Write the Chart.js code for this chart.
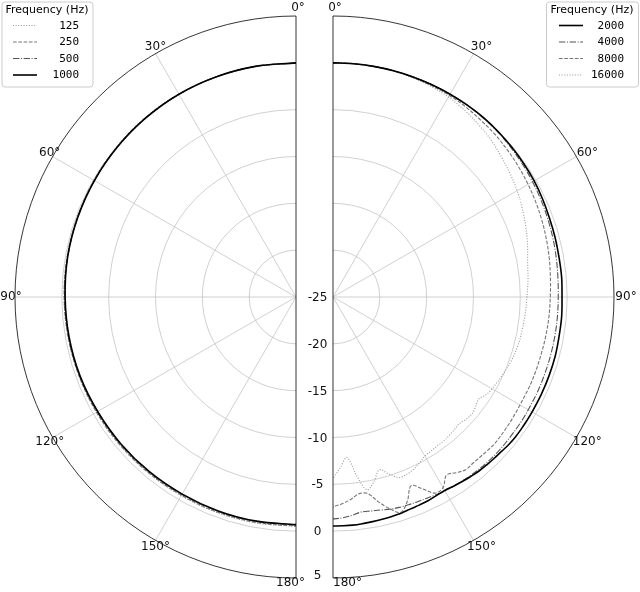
<!DOCTYPE html>
<html>
<head>
<meta charset="utf-8">
<script src="https://cdn.jsdelivr.net/npm/chart.js@4.4.0/dist/chart.umd.min.js"></script>
<style>
  html, body { margin: 0; padding: 0; background: #fff; }
</style>
</head>
<body>
<canvas id="polar" width="640" height="592"></canvas>
<script>
// angles in degrees, 0 = front, 180 = rear
var anglesLow = [0, 10, 20, 30, 40, 50, 60, 70, 80, 90, 100, 110, 120, 130, 140, 150, 160, 170, 180];
var anglesHigh = [0, 5, 10, 15, 20, 25, 30, 35, 40, 45, 50, 55, 60, 65, 70, 75, 80, 85, 90, 95, 100, 105, 110, 115, 120,
    122.5, 125, 127.5, 130, 132.5, 135, 137.5, 140, 142.5, 145, 147.5, 150, 152.5, 155, 157.5, 160,
    162.5, 165, 167.5, 170, 172.5, 175, 177.5, 180];

// levels in dB
var level125 = [0, 0, 0, 0, 0, -0.05, -0.1, -0.15, -0.2, -0.25, -0.3, -0.35, -0.4, -0.45, -0.5, -0.5, -0.5, -0.5, -0.5];
var level250 = [0, 0, 0, 0, 0, -0.05, -0.1, -0.15, -0.2, -0.25, -0.3, -0.35, -0.4, -0.45, -0.5, -0.55, -0.55, -0.55, -0.55];
var level500 = [0, 0, 0, 0, -0.05, -0.1, -0.15, -0.2, -0.25, -0.3, -0.35, -0.4, -0.5, -0.55, -0.6, -0.65, -0.65, -0.65, -0.65];
var level1000 = [0, 0, 0, 0, -0.05, -0.1, -0.15, -0.2, -0.25, -0.35, -0.4, -0.45, -0.55, -0.6, -0.65, -0.7, -0.7, -0.7, -0.7];

var level2000 = [0, 0, 0, 0, 0, 0, 0, 0, 0, -0.05, -0.1, -0.15, -0.2, -0.3, -0.4, -0.45, -0.5, -0.5, -0.55, -0.5, -0.5, -0.45, -0.45, -0.45, -0.45,
    -0.45, -0.45, -0.45, -0.5, -0.6, -0.65, -0.7, -0.75, -0.85, -0.95, -1.05, -1.15, -1.1, -1.0, -0.95, -0.9,
    -0.8, -0.75, -0.7, -0.65, -0.6, -0.55, -0.55, -0.55];
var level4000 = [0, 0, 0, 0, 0, 0, 0, 0, -0.05, -0.1, -0.2, -0.3, -0.4, -0.5, -0.6, -0.7, -0.8, -0.9, -0.95, -0.95, -0.95, -0.95, -0.95, -0.93, -0.93,
    -0.9, -0.9, -0.9, -0.88, -0.86, -0.85, -0.88, -0.9, -0.95, -1.0, -1.05, -1.1, -1.2, -1.3, -1.35, -1.4,
    -1.45, -1.55, -1.7, -1.8, -1.85, -1.6, -1.4, -1.3];
var level8000 = [0, 0, 0, 0, -0.05, -0.1, -0.15, -0.25, -0.4, -0.5, -0.65, -0.8, -0.95, -1.1, -1.25, -1.4, -1.55, -1.7, -1.8, -1.85, -1.9, -1.95, -1.95, -1.95, -1.95,
    -1.9, -1.85, -1.8, -1.75, -1.7, -1.75, -1.8, -1.8, -1.75, -2.1, -2.45, -1.5, -1.4, -2.4, -3.2, -1.8,
    -0.9, -1.6, -2.6, -3.7, -3.8, -3.3, -2.9, -2.6];
var level16000 = [0, 0, 0, -0.05, -0.1, -0.2, -0.35, -0.6, -0.9, -1.2, -1.6, -1.95, -2.3, -2.7, -3.1, -3.5, -3.9, -4.1, -4.3, -4.4, -4.5, -4.6, -4.8, -5.1, -5.4,
    -5.6, -6.0, -5.8, -5.6, -5.7, -5.9, -5.8, -5.7, -5.6, -5.6, -5.5, -5.4, -5.0, -4.7, -4.5, -4.5,
    -5.2, -5.9, -4.8, -4.1, -5.8, -7.8, -6.8, -5.6];

var radialTicks = [-25, -20, -15, -10, -5, 0, 5];
var angleTicks = [0, 30, 60, 90, 120, 150, 180];
var legendTitle = 'Frequency (Hz)';

var rMin = -25, rMax = 5;

// layout (pixels)
var W = 640, H = 592;
var PX = 281 / (rMax - rMin);   // pixels per dB
var CX_LEFT = 296, CX_RIGHT = 333, CY = 297;
var gapUnits = (CX_RIGHT - CX_LEFT) / PX;

var styles = {
    solid:   { color: '#000000', width: 1.6, dash: [], order: 0 },
    dashdot: { color: '#555555', width: 1.1, dash: [6.4, 1.6, 1, 1.6], order: 1 },
    dashed:  { color: '#777777', width: 1.1, dash: [3.7, 1.6], order: 2 },
    dotted:  { color: '#999999', width: 1.1, dash: [1, 1.65], order: 3 }
};

function polarPoint(side, deg, level) {
    var r = level - rMin;
    var a = deg * Math.PI / 180;
    return { x: (side < 0 ? 0 : gapUnits) + side * r * Math.sin(a), y: r * Math.cos(a) };
}

function makeSet(label, side, angles, levels, style) {
    var s = styles[style];
    return {
        label: label,
        side: side,
        data: angles.map(function (a, i) { return polarPoint(side, a, levels[i]); }),
        showLine: true,
        borderColor: s.color,
        borderWidth: s.width,
        borderDash: s.dash,
        pointRadius: 0,
        fill: false,
        tension: 0.35,
        order: s.order
    };
}

var datasets = [
    makeSet('125', -1, anglesLow, level125, 'dotted'),
    makeSet('250', -1, anglesLow, level250, 'dashed'),
    makeSet('500', -1, anglesLow, level500, 'dashdot'),
    makeSet('1000', -1, anglesLow, level1000, 'solid'),
    makeSet('2000', 1, anglesHigh, level2000, 'solid'),
    makeSet('4000', 1, anglesHigh, level4000, 'dashdot'),
    makeSet('8000', 1, anglesHigh, level8000, 'dashed'),
    makeSet('16000', 1, anglesHigh, level16000, 'dotted')
];

var tickFont = '12px "DejaVu Sans", sans-serif';
var legendFont = '11px "DejaVu Sans", sans-serif';
var legendMono = '11px "DejaVu Sans Mono", monospace';

function pix(chart, p) {
    return { x: chart.scales.x.getPixelForValue(p.x), y: chart.scales.y.getPixelForValue(p.y) };
}

function drawLegend(chart, side, box) {
    var ctx = chart.ctx;
    var sets = chart.data.datasets.filter(function (d) { return d.side === side; });
    ctx.save();
    ctx.fillStyle = 'rgba(255,255,255,0.8)';
    ctx.strokeStyle = '#cccccc';
    ctx.lineWidth = 1;
    ctx.beginPath();
    ctx.roundRect(box.x + 0.5, box.y + 0.5, box.w, box.h, 3);
    ctx.fill();
    ctx.stroke();
    ctx.fillStyle = '#000';
    ctx.font = legendFont;
    ctx.textAlign = 'center';
    ctx.textBaseline = 'middle';
    ctx.fillText(legendTitle, box.x + box.w / 2, box.y + 9);
    ctx.font = legendMono;
    ctx.textAlign = 'right';
    sets.forEach(function (d, i) {
        var y = box.y + 24 + i * 16.5;
        ctx.strokeStyle = d.borderColor;
        ctx.lineWidth = d.borderWidth;
        ctx.setLineDash(d.borderDash);
        ctx.beginPath();
        ctx.moveTo(box.sx, y);
        ctx.lineTo(box.sx + 24, y);
        ctx.stroke();
        ctx.setLineDash([]);
        ctx.fillText(d.label, box.nx, y + 0.5);
    });
    ctx.restore();
}

var polarFrame = {
    id: 'polarFrame',
    beforeDatasetsDraw: function (chart) {
        var ctx = chart.ctx;
        var unit = chart.scales.x.getPixelForValue(1) - chart.scales.x.getPixelForValue(0);
        [-1, 1].forEach(function (side) {
            var c = pix(chart, polarPoint(side, 0, rMin));
            ctx.save();
            ctx.strokeStyle = '#c4c4c4';
            ctx.lineWidth = 0.8;
            radialTicks.forEach(function (t) {
                if (t === rMin || t === rMax) return;
                ctx.beginPath();
                ctx.arc(c.x, c.y, (t - rMin) * unit, -Math.PI / 2, Math.PI / 2, side < 0);
                ctx.stroke();
            });
            angleTicks.forEach(function (a) {
                if (a === 0 || a === 180) return;
                var p = pix(chart, polarPoint(side, a, rMax));
                ctx.beginPath();
                ctx.moveTo(c.x, c.y);
                ctx.lineTo(p.x, p.y);
                ctx.stroke();
            });
            ctx.restore();
        });
    },
    afterDatasetsDraw: function (chart) {
        var ctx = chart.ctx;
        var unit = chart.scales.x.getPixelForValue(1) - chart.scales.x.getPixelForValue(0);
        [-1, 1].forEach(function (side) {
            var c = pix(chart, polarPoint(side, 0, rMin));
            var R = (rMax - rMin) * unit;
            ctx.save();
            ctx.strokeStyle = '#000';
            ctx.lineWidth = 0.8;
            ctx.beginPath();
            ctx.arc(c.x, c.y, R, -Math.PI / 2, Math.PI / 2, side < 0);
            ctx.stroke();
            ctx.beginPath();
            ctx.moveTo(c.x, c.y - R);
            ctx.lineTo(c.x, c.y + R);
            ctx.stroke();

            // angle labels
            ctx.fillStyle = '#111';
            ctx.font = tickFont;
            ctx.textBaseline = 'middle';
            angleTicks.forEach(function (a) {
                var txt = a + '\u00b0';
                var rad = a * Math.PI / 180;
                var rr = R + 8;
                var x = c.x + side * rr * Math.sin(rad) + 4;
                var y = c.y - rr * Math.cos(rad);
                ctx.textAlign = 'center';
                if (a === 0) { x = c.x + 2; }
                if (a === 180) {
                    y = c.y + R + 5;
                    if (side < 0) { ctx.textAlign = 'right'; x = c.x + 9; }
                    else { ctx.textAlign = 'left'; x = c.x; }
                }
                ctx.fillText(txt, x, y);
            });
            ctx.restore();
        });

        // radial labels between the halves
        ctx.save();
        ctx.fillStyle = '#111';
        ctx.font = tickFont;
        ctx.textAlign = 'center';
        ctx.textBaseline = 'middle';
        var mid = (CX_LEFT + CX_RIGHT) / 2 + 3;
        radialTicks.forEach(function (t) {
            var y = chart.scales.y.getPixelForValue(-(t - rMin));
            if (t === rMax) y -= 3;
            ctx.fillText(String(t), mid, y + 1);
        });
        ctx.restore();

        drawLegend(chart, -1, { x: 1.5, y: 1.5, w: 91, h: 85, sx: 13, nx: 79 });
        drawLegend(chart, 1, { x: 546, y: 1.5, w: 92, h: 85, sx: 559, nx: 624 });
    }
};

new Chart(document.getElementById('polar'), {
    type: 'scatter',
    data: { datasets: datasets },
    options: {
        responsive: false,
        animation: false,
        layout: { padding: 0 },
        plugins: { legend: { display: false }, tooltip: { enabled: false } },
        scales: {
            x: { type: 'linear', display: false, min: -CX_LEFT / PX, max: (W - CX_LEFT) / PX },
            y: { type: 'linear', display: false, min: -(H - CY) / PX, max: CY / PX }
        }
    },
    plugins: [polarFrame]
});
</script>
</body>
</html>
